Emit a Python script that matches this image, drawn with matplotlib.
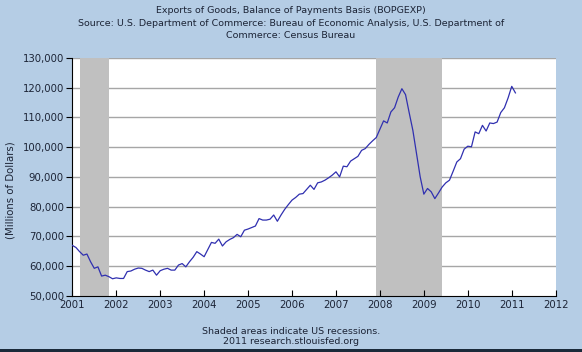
import matplotlib
matplotlib.use("Agg")
import matplotlib.pyplot as plt
from matplotlib.ticker import FuncFormatter

# monthly exports of goods, millions of dollars, Jan 2001 - Feb 2011
start_year = 2001
exports = [
    67000, 66300, 64900, 63700, 64100, 61500, 59300, 59800, 56700, 57000, 56500, 55800,
    56100, 55900, 55900, 58200, 58400, 59000, 59400, 59300, 58700, 58200, 58700, 57000,
    58500, 59000, 59300, 58700, 58700, 60400, 60900, 59800, 61500, 63000, 64900, 64100,
    63200, 65600, 68000, 67700, 69100, 66800, 68200, 69000, 69600, 70700, 69900, 72100,
    72500, 73000, 73500, 76000, 75500, 75500, 75800, 77200, 75100, 77200, 79100, 80700,
    82200, 83100, 84200, 84400, 85800, 87200, 85800, 88000, 88300, 88900, 89700, 90600,
    91700, 90000, 93600, 93400, 95300, 96100, 96900, 98900, 99500, 100900, 102100, 103200,
    106000, 108800, 108100, 111800, 113200, 116800, 119600, 117600, 111500, 105600, 97800, 90000,
    84200, 86100, 85000, 82700, 84600, 86600, 88000, 88900, 91900, 95000, 96100, 99300,
    100300, 100100, 105100, 104500, 107300, 105400, 108100, 107900, 108400, 111600, 113200, 116500,
    120400, 118200,
]
recessions = [(2001 + 2 / 12, 2001 + 10 / 12), (2007 + 11 / 12, 2009 + 5 / 12)]
year_ticks = list(range(2001, 2013))
value_ticks = list(range(50000, 130001, 10000))

months = [start_year + i / 12 for i in range(len(exports))]

bg = "#b5cde5"
txt = "#1c2436"

fig = plt.figure(figsize=(5.82, 3.52), dpi=100, facecolor=bg)
ax = fig.add_axes([0.1242, 0.159, 0.8306, 0.677])
ax.set_facecolor("white")

for a, b in recessions:
    ax.axvspan(a, b, color="#c0c0c0", lw=0, zorder=1)

for v in value_ticks[1:]:
    ax.axhline(v, color="#a6a6a6", lw=1, zorder=0.5)

ax.plot(months, exports, color="#3030b0", lw=0.9, zorder=3)

ax.set_xlim(2001, 2012)
ax.set_ylim(50000, 130000)
ax.set_xticks(year_ticks)
ax.set_yticks(value_ticks)
ax.yaxis.set_major_formatter(FuncFormatter(lambda v, p: f"{int(v):,}"))

for s in ["top", "right"]:
    ax.spines[s].set_visible(False)
ax.spines["left"].set_color("black")
ax.spines["bottom"].set_color("black")
ax.tick_params(axis="x", direction="in", length=4, labelsize=7.3, labelcolor=txt, pad=3)
ax.tick_params(axis="y", direction="out", length=4, labelsize=7.3, labelcolor=txt, pad=2)

fig.text(0.5, 0.969, "Exports of Goods, Balance of Payments Basis (BOPGEXP)",
         ha="center", va="center", fontsize=6.8, color=txt)
fig.text(0.5, 0.934, "Source: U.S. Department of Commerce: Bureau of Economic Analysis, U.S. Department of",
         ha="center", va="center", fontsize=6.8, color=txt)
fig.text(0.5, 0.900, "Commerce: Census Bureau",
         ha="center", va="center", fontsize=6.8, color=txt)
fig.text(0.018, 0.46, "(Millions of Dollars)", rotation=90,
         ha="center", va="center", fontsize=7.3, color=txt)
fig.text(0.5, 0.058, "Shaded areas indicate US recessions.",
         ha="center", va="center", fontsize=6.8, color=txt)
fig.text(0.5, 0.029, "2011 research.stlouisfed.org",
         ha="center", va="center", fontsize=6.8, color=txt)

# dark strip along the bottom edge
fig.add_artist(plt.Rectangle((0, 0), 1, 0.008, transform=fig.transFigure,
                             color="#1a2a3a", lw=0))

fig.savefig("out.png", dpi=100, facecolor=bg)
